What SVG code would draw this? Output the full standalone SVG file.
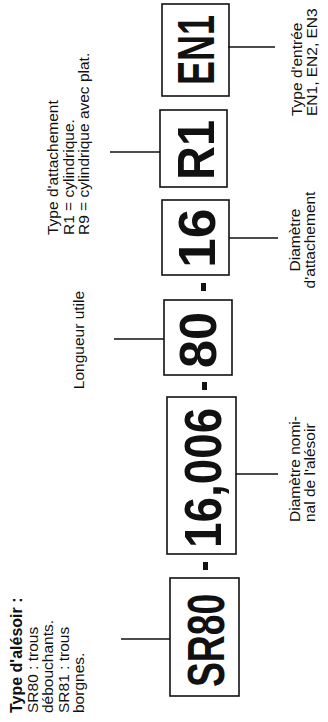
<svg xmlns="http://www.w3.org/2000/svg" width="328" height="722" viewBox="0 0 328 722">
<style>
.box{fill:none;stroke:#111;stroke-width:1.6}
.code{font-family:"Liberation Sans",Arial,sans-serif;font-weight:bold;font-size:51px;fill:#111}
.lbl{font-family:"Liberation Sans",Arial,sans-serif;font-size:15.5px;fill:#111}
.lblb{font-family:"Liberation Sans",Arial,sans-serif;font-size:16px;font-weight:bold;fill:#111}
.lead{stroke:#111;stroke-width:1.6;fill:none}
.dash{fill:#111}
</style>
<rect width="328" height="722" fill="#fff"/>
<g transform="translate(0,722) rotate(-90)">
  <g id="node-sr80">
    <rect class="box" x="26" y="170" width="118" height="69"/>
    <text class="code" transform="translate(35,224) scale(0.731,1)" font-size="53">SR80</text>
  </g>
  <g id="node-diam">
    <rect class="box" x="168" y="167" width="157" height="69"/>
    <text class="code" transform="translate(174,221) scale(0.899,1)" font-size="52">16,006</text>
  </g>
  <g id="node-long">
    <rect class="box" x="347" y="164" width="75" height="68"/>
    <text class="code" transform="translate(354,216) scale(0.988,1)">80</text>
  </g>
  <g id="node-diamatt">
    <rect class="box" x="447" y="162" width="75" height="67"/>
    <text class="code" transform="translate(454,215) scale(1.05,1)">16</text>
  </g>
  <g id="node-att">
    <rect class="box" x="535" y="160" width="77" height="67"/>
    <text class="code" transform="translate(542,214) scale(0.92,1)">R1</text>
  </g>
  <g id="node-entree">
    <rect class="box" x="626" y="162" width="92" height="67"/>
    <text class="code" transform="translate(637,214) scale(0.706,1)">EN1</text>
  </g>
  <g id="separators">
    <rect class="dash" x="152" y="203" width="8" height="5"/>
    <rect class="dash" x="332" y="202" width="8" height="5"/>
    <rect class="dash" x="431" y="201" width="8" height="5"/>
  </g>
  <g id="label-alesoir">
    <text class="lblb" x="9" y="22">Type d'alésoir :</text>
    <text class="lbl" x="9" y="37.5">SR80 : trous</text>
    <text class="lbl" x="9" y="53">débouchants.</text>
    <text class="lbl" x="9" y="68.5">SR81 : trous</text>
    <text class="lbl" x="9" y="84">borgnes.</text>
  </g>
  <g id="label-diametre">
    <text class="lbl" x="200" y="299.5">Diamètre nomi-</text>
    <text class="lbl" x="200" y="315">nal de l'alésoir</text>
  </g>
  <g id="label-longueur">
    <text class="lbl" x="382" y="83.5" text-anchor="middle">Longueur utile</text>
  </g>
  <g id="label-diamatt">
    <text class="lbl" x="482" y="299.5" text-anchor="middle">Diamètre</text>
    <text class="lbl" x="482" y="315" text-anchor="middle">d'attachement</text>
  </g>
  <g id="label-att">
    <text class="lbl" x="487" y="58">Type d'attachement</text>
    <text class="lbl" x="487" y="73.5">R1 = cylindrique.</text>
    <text class="lbl" x="487" y="89">R9 = cylindrique avec plat.</text>
  </g>
  <g id="label-entree">
    <text class="lbl" x="606" y="302">Type d'entrée</text>
    <text class="lbl" x="606" y="317">EN1, EN2, EN3</text>
  </g>
  <g id="connectors">
    <line class="lead" x1="83" y1="121" x2="83" y2="170"/>
    <line class="lead" x1="248" y1="236" x2="248" y2="278"/>
    <line class="lead" x1="383" y1="114" x2="383" y2="164"/>
    <line class="lead" x1="484" y1="229" x2="484" y2="278"/>
    <line class="lead" x1="570" y1="110" x2="570" y2="160"/>
    <line class="lead" x1="675" y1="228" x2="675" y2="275"/>
  </g>
</g>
</svg>
